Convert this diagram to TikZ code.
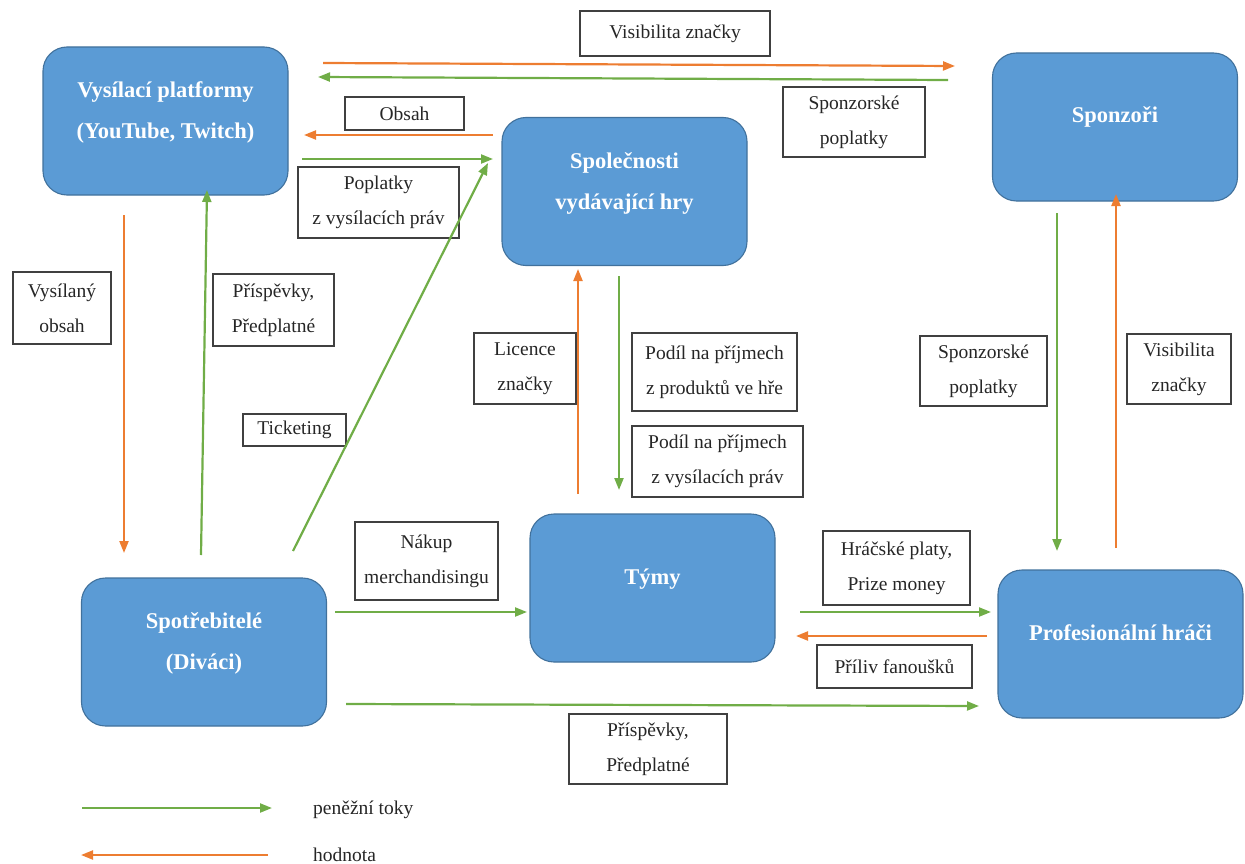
\documentclass[tikz,border=0pt]{standalone}
\usepackage{fontspec}
\setmainfont{Liberation Serif}
\usetikzlibrary{arrows.meta}
\definecolor{bfill}{HTML}{5B9BD5}
\definecolor{bdraw}{HTML}{41719C}
\definecolor{lbox}{HTML}{404040}
\definecolor{gr}{HTML}{70AD47}
\definecolor{orr}{HTML}{ED7D31}
\definecolor{txt}{HTML}{262626}
\begin{document}
\begin{tikzpicture}[x=1pt,y=-1pt,
  ent/.style 2 args={draw=bdraw, fill=bfill, line width=1.1pt, rounded corners=24pt,
    minimum width=245pt, minimum height=148pt, inner sep=0pt,
    label={[yshift=#2pt, text=white, align=center, font=\fontsize{22.5}{41}\selectfont\bfseries]center:#1}},
  lbl/.style 2 args={draw=lbox, line width=1.1pt, align=center, text=txt,
    font=\fontsize{19.5}{35}\selectfont, inner sep=0pt, minimum width=#1pt, minimum height=#2pt},
  gar/.style={draw=gr, line width=2.2pt, -{Triangle[length=12pt,width=9pt]}},
  oar/.style={draw=orr, line width=2.2pt, -{Triangle[length=12pt,width=9pt]}},
  leg/.style={anchor=west, text=txt, font=\fontsize{19.5}{24}\selectfont, inner sep=0pt}
]
\useasboundingbox (0,0) rectangle (1245,864);

% main entities
\node[ent={Vysílací platformy\\(YouTube, Twitch)}{9}] (vp) at (165.5,121) {};
\node[ent={Společnosti\\vydávající hry}{8.5}] (sv) at (624.5,191.5) {};
\node[ent={Sponzoři}{10}] (sp) at (1115,127) {};
\node[ent={Spotřebitelé\\(Diváci)}{8.5}] (cons) at (204,652) {};
\node[ent={Týmy}{9}] (tm) at (652.5,588) {};
\node[ent={Profesionální hráči}{11}] (ph) at (1120.5,644) {};

% label boxes
\node[lbl={190}{45}] (l1) at (675,33.5) {Visibilita značky};
\node[lbl={142}{70}] (l2) at (854,122) {Sponzorské\\poplatky};
\node[lbl={119}{33}] (l3) at (404.5,113.5) {Obsah};
\node[lbl={161}{71}] (l4) at (378.5,202.5) {Poplatky\\z vysílacích práv};
\node[lbl={98}{72}] (l5) at (62,308) {Vysílaný\\obsah};
\node[lbl={121}{72}] (l6) at (273.5,310) {Příspěvky,\\Předplatné};
\node[lbl={103}{32}] (l7) at (294.5,430) {Ticketing};
\node[lbl={102}{71}] (l8) at (525,368.5) {Licence\\značky};
\node[lbl={165}{78}] (l9) at (714.5,372) {Podíl na příjmech\\z produktů ve hře};
\node[lbl={171}{71}] (l10) at (717.5,461.5) {Podíl na příjmech\\z vysílacích práv};
\node[lbl={143}{78}] (l11) at (426.5,561) {Nákup\\merchandisingu};
\node[lbl={127}{70}] (l12) at (983.5,371) {Sponzorské\\poplatky};
\node[lbl={104}{70}] (l13) at (1179,369) {Visibilita\\značky};
\node[lbl={147}{74}] (l14) at (896.5,568) {Hráčské platy,\\Prize money};
\node[lbl={155}{43}] (l15) at (894.5,666.5) {Příliv fanoušků};
\node[lbl={158}{70}] (l16) at (648,749) {Příspěvky,\\Předplatné};

% connector end points
\coordinate (a1s) at (323,63);   \coordinate (a1e) at (955,66);
\coordinate (a2s) at (948,80);   \coordinate (a2e) at (318,77);
\coordinate (a3s) at (493,135);  \coordinate (a3e) at (304,135);
\coordinate (a4s) at (302,159);  \coordinate (a4e) at (493,159);
\coordinate (a5s) at (293,551);  \coordinate (a5e) at (488,163);
\coordinate (a6s) at (124,215);  \coordinate (a6e) at (124,553);
\coordinate (a7s) at (201,555);  \coordinate (a7e) at (207,190);
\coordinate (a8s) at (578,494);  \coordinate (a8e) at (578,269);
\coordinate (a9s) at (619,276);  \coordinate (a9e) at (619,490);
\coordinate (a10s) at (1057,213); \coordinate (a10e) at (1057,551);
\coordinate (a11s) at (1116,548); \coordinate (a11e) at (1116,194);
\coordinate (a12s) at (335,612); \coordinate (a12e) at (527,612);
\coordinate (a13s) at (800,612); \coordinate (a13e) at (991,612);
\coordinate (a14s) at (987,636); \coordinate (a14e) at (796,636);
\coordinate (a15s) at (346,704); \coordinate (a15e) at (979,706);

\draw[oar] (a1s) -- (a1e);
\draw[gar] (a2s) -- (a2e);
\draw[oar] (a3s) -- (a3e);
\draw[gar] (a4s) -- (a4e);
\draw[gar] (a5s) -- (a5e);
\draw[oar] (a6s) -- (a6e);
\draw[gar] (a7s) -- (a7e);
\draw[oar] (a8s) -- (a8e);
\draw[gar] (a9s) -- (a9e);
\draw[gar] (a10s) -- (a10e);
\draw[oar] (a11s) -- (a11e);
\draw[gar] (a12s) -- (a12e);
\draw[gar] (a13s) -- (a13e);
\draw[oar] (a14s) -- (a14e);
\draw[gar] (a15s) -- (a15e);

% legend
\coordinate (g1s) at (82,808);  \coordinate (g1e) at (272,808);
\coordinate (g2s) at (268,855); \coordinate (g2e) at (81,855);
\draw[gar] (g1s) -- (g1e);
\draw[oar] (g2s) -- (g2e);
\node[leg] (t1) at (313,810) {peněžní toky};
\node[leg] (t2) at (313,855) {hodnota};
\end{tikzpicture}
\end{document}
